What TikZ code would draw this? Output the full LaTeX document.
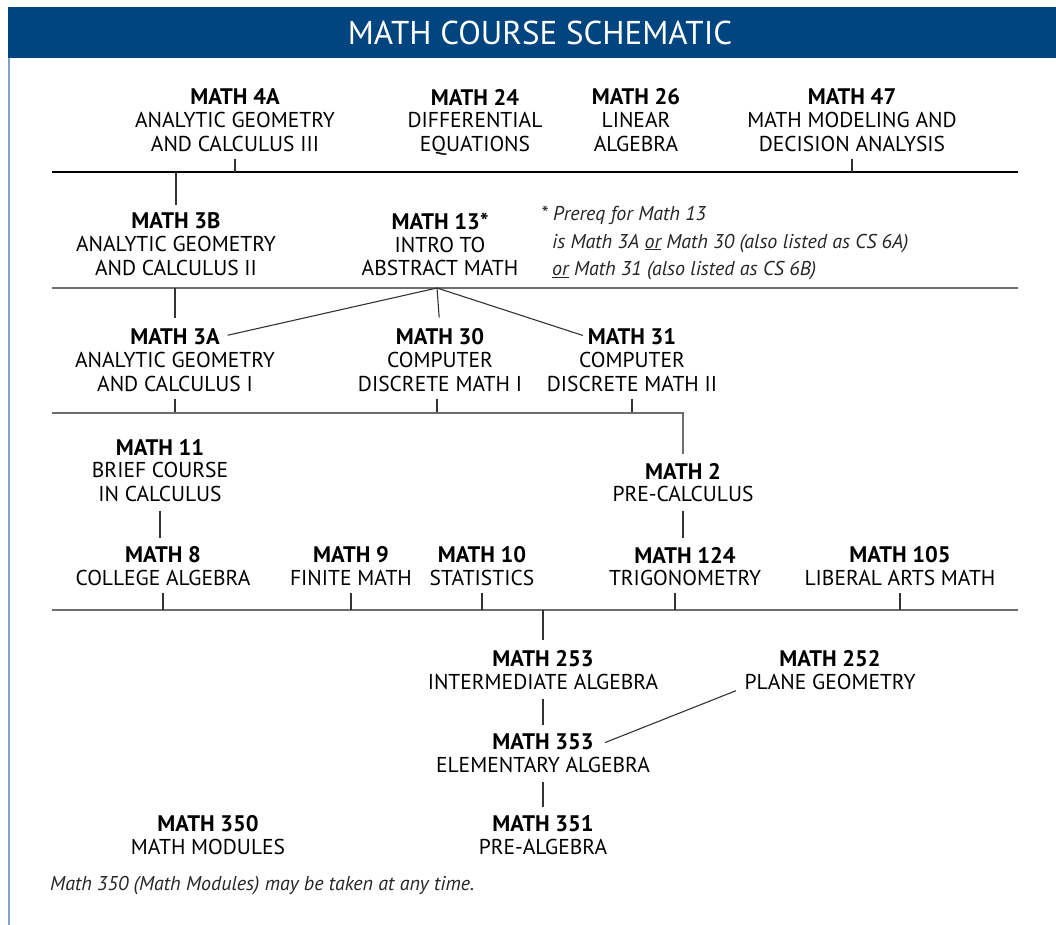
\documentclass[tikz,border=0pt]{standalone}
\usepackage{fontspec}
\setmainfont{PT Sans}
\usetikzlibrary{positioning}
\definecolor{hdblue}{RGB}{0,69,127}
\definecolor{edgeblue}{RGB}{125,163,206}
\definecolor{rulegray}{RGB}{110,110,110}
\tikzset{
  code/.style={font=\fontsize{22.5}{24}\selectfont\bfseries, inner sep=0pt},
  desc/.style={font=\fontsize{21.5}{23.5}\selectfont, align=center, inner sep=0pt},
  note/.style={font=\fontsize{20}{27.5}\selectfont\itshape, align=left, inner sep=0pt, text=black!85},
  tier/.style={rulegray, line width=1.5pt},
  link/.style={black!80, line width=1.1pt},
}
\begin{document}
\begin{tikzpicture}[x=1pt,y=-1pt]
    \useasboundingbox (0,0) rectangle (1056,925);

    % Header band
    \fill[hdblue] (8,7) rectangle (1056,58);
    \node[text=white, font=\fontsize{33}{38}\selectfont, inner sep=0pt] (title) at (540,33) {MATH COURSE SCHEMATIC};
    \draw[edgeblue, line width=1.5pt] (9,58) -- (9,925);

    % Tier lines
    \coordinate (l1a) at (52,172); \coordinate (l1b) at (1018,172);
    \coordinate (l2a) at (52,288); \coordinate (l2b) at (1018,288);
    \coordinate (l3a) at (52,413);
    \coordinate (l4a) at (52,610); \coordinate (l4b) at (1018,610);
    \coordinate (apex) at (437,288);
    \draw[black, line width=1.4pt] (l1a) -- (l1b);
    \draw[tier] (l2a) -- (l2b);
    \draw[tier] (l4a) -- (l4b);

    % Row 1
    \node[code] (m4a) at (235,97) {MATH 4A};
    \node[desc, below=7pt of m4a] (m4a-t) {ANALYTIC GEOMETRY\\AND CALCULUS III};
    \node[code] (m24) at (475,97) {MATH 24};
    \node[desc, below=7pt of m24] (m24-t) {DIFFERENTIAL\\EQUATIONS};
    \node[code] (m26) at (636,97) {MATH 26};
    \node[desc, below=7pt of m26] (m26-t) {LINEAR\\ALGEBRA};
    \node[code] (m47) at (852,97) {MATH 47};
    \node[desc, below=7pt of m47] (m47-t) {MATH MODELING AND\\DECISION ANALYSIS};

    % Row 2
    \node[code] (m3b) at (176,221) {MATH 3B};
    \node[desc, below=7pt of m3b] (m3b-t) {ANALYTIC GEOMETRY\\AND CALCULUS II};
    \node[code] (m13) at (440,221) {MATH 13*};
    \node[desc, below=7pt of m13] (m13-t) {INTRO TO\\ABSTRACT MATH};
    \node[note, anchor=north west] (prereq) at (541,206) {* Prereq for Math 13\\
        \hspace*{11pt}is Math 3A \underline{or} Math 30 (also listed as CS 6A)\\
        \hspace*{11pt}\underline{or} Math 31 (also listed as CS 6B)};

    % Row 3
    \node[code] (m3a) at (175,337) {MATH 3A};
    \node[desc, below=7pt of m3a] (m3a-t) {ANALYTIC GEOMETRY\\AND CALCULUS I};
    \node[code] (m30) at (440,337) {MATH 30};
    \node[desc, below=7pt of m30] (m30-t) {COMPUTER\\DISCRETE MATH I};
    \node[code] (m31) at (632,337) {MATH 31};
    \node[desc, below=7pt of m31] (m31-t) {COMPUTER\\DISCRETE MATH II};

    % Row 4
    \node[code] (m11) at (160,447) {MATH 11};
    \node[desc, below=7pt of m11] (m11-t) {BRIEF COURSE\\IN CALCULUS};
    \node[code] (m2) at (683,471) {MATH 2};
    \node[desc, below=7pt of m2] (m2-t) {PRE-CALCULUS};

    % Row 5
    \node[code] (m8) at (163,555) {MATH 8};
    \node[desc, below=7pt of m8] (m8-t) {COLLEGE ALGEBRA};
    \node[code] (m9) at (351,555) {MATH 9};
    \node[desc, below=7pt of m9] (m9-t) {FINITE MATH};
    \node[code] (m10) at (482,555) {MATH 10};
    \node[desc, below=7pt of m10] (m10-t) {STATISTICS};
    \node[code] (m124) at (685,555) {MATH 124};
    \node[desc, below=7pt of m124] (m124-t) {TRIGONOMETRY};
    \node[code] (m105) at (900,555) {MATH 105};
    \node[desc, below=7pt of m105] (m105-t) {LIBERAL ARTS MATH};

    % Rows 6 to 8
    \node[code] (m253) at (543,659) {MATH 253};
    \node[desc, below=7pt of m253] (m253-t) {INTERMEDIATE ALGEBRA};
    \node[code] (m252) at (830,659) {MATH 252};
    \node[desc, below=7pt of m252] (m252-t) {PLANE GEOMETRY};
    \node[code] (m353) at (543,742) {MATH 353};
    \node[desc, below=7pt of m353] (m353-t) {ELEMENTARY ALGEBRA};
    \node[code] (m351) at (543,824) {MATH 351};
    \node[desc, below=7pt of m351] (m351-t) {PRE-ALGEBRA};
    \node[code] (m350) at (208,824) {MATH 350};
    \node[desc, below=7pt of m350] (m350-t) {MATH MODULES};

    % Footnote
    \node[note, anchor=base west] (anytime) at (50,890) {Math 350 (Math Modules) may be taken at any time.};

    % Connectors
    \draw[link, shorten <=7pt] (m4a-t.south) -- (m4a-t.south |- l1a);
    \draw[link, shorten <=7pt] (m47-t.south) -- (m47-t.south |- l1a);
    \draw[link, shorten >=8pt] (m3b.north |- l1a) -- (m3b.north);
    \draw[link, shorten >=11pt] (m3a.north |- l2a) -- (m3a.north);
    \draw[link, shorten >=11pt] (apex) -- (m30.north);
    \draw[link, shorten >=8pt] (apex) -- (m3a.east);
    \draw[link, shorten >=5pt] (apex) -- (m31.west);
    \draw[link, shorten <=7pt] (m3a-t.south) -- (m3a-t.south |- l3a);
    \draw[link, shorten <=7pt] ([xshift=-3pt]m30-t.south) -- ([xshift=-3pt]m30-t.south |- l3a);
    \draw[link, shorten <=7pt] (m31-t.south) -- (m31-t.south |- l3a);
    \draw[tier, shorten >=9pt] (l3a) -| (m2.north);
    \draw[link, shorten <=9pt, shorten >=9pt] (m11-t.south) -- (m11-t.south |- m8.north);
    \draw[link, shorten <=9pt, shorten >=9pt] (m2-t.south) -- (m2-t.south |- m124.north);
    \draw[link, shorten <=7pt] (m8-t.south) -- (m8-t.south |- l4a);
    \draw[link, shorten <=7pt] (m9-t.south) -- (m9-t.south |- l4a);
    \draw[link, shorten <=7pt] (m10-t.south) -- (m10-t.south |- l4a);
    \draw[link, shorten <=7pt] ([xshift=-10pt]m124-t.south) -- ([xshift=-10pt]m124-t.south |- l4a);
    \draw[link, shorten <=7pt] (m105-t.south) -- (m105-t.south |- l4a);
    \draw[link, shorten >=11pt] (m253.north |- l4a) -- (m253.north);
    \draw[link, shorten <=9pt, shorten >=9pt] (m253-t.south) -- (m353.north);
    \draw[link, shorten <=9pt, shorten >=12pt] ([yshift=-5pt]m252-t.west) -- ([yshift=-5pt]m353.east);
    \draw[link, shorten <=9pt, shorten >=9pt] (m353-t.south) -- (m351.north);
\end{tikzpicture}
\end{document}
